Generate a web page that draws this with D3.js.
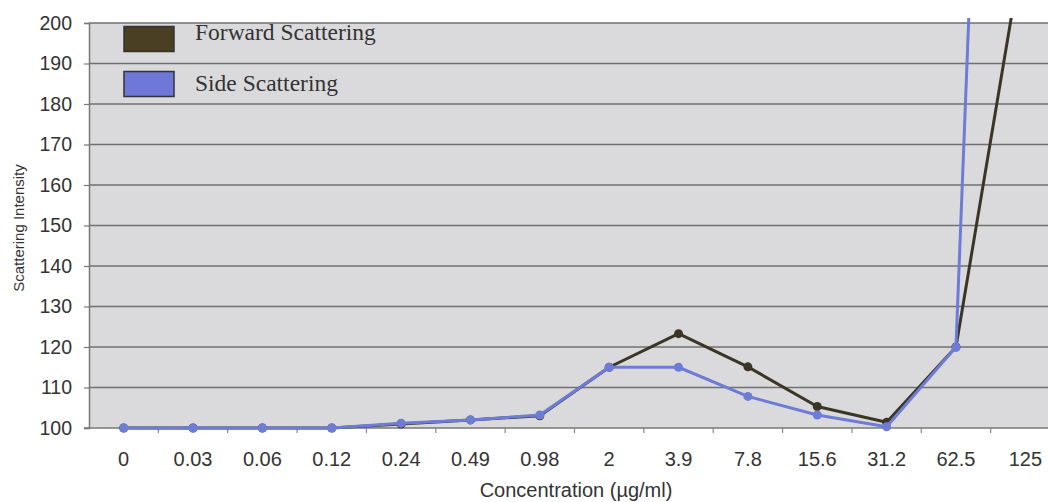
<!DOCTYPE html>
<html><head><meta charset="utf-8">
<script src="https://cdn.jsdelivr.net/npm/d3@7"></script>
<style>body{margin:0;background:#fff}svg{display:block}</style>
</head><body>
<script>
const categories = ["0","0.03","0.06","0.12","0.24","0.49","0.98","2","3.9","7.8","15.6","31.2","62.5","125"];
const forwardValues = [100,100,100,100,101,102,103,115,123.3,115.1,105.3,101.4,120,222];
const sideValues = [100,100,100,100,101.2,102,103.2,115,115,107.8,103.2,100.3,120,560];
const yTicks = [100,110,120,130,140,150,160,170,180,190,200];
const seriesNames = ["Forward Scattering","Side Scattering"];

(function () {
const W = 1048, H = 502;
const svg = d3.select("body").append("svg").attr("width", W).attr("height", H);
const pl = 89, pt = 23, pb = 428, pr = 1048;
const x = d3.scaleBand().domain(categories).range([pl, 1060]).padding(0);
const y = d3.scaleLinear().domain([100, 200]).range([pb, pt]);

svg.append("rect").attr("x", pl).attr("y", pt).attr("width", pr - pl).attr("height", pb - pt).attr("fill", "#dadadc");

// gridlines
svg.append("g").selectAll("line").data(yTicks.filter(d => d > 100)).join("line")
  .attr("x1", pl).attr("x2", pr).attr("y1", d => y(d)).attr("y2", d => y(d))
  .attr("stroke", "#707070").attr("stroke-width", 1.5);

// y axis
const yAxis = svg.append("g").attr("transform", `translate(${pl},0)`)
  .call(d3.axisLeft(y).tickValues(yTicks).tickSize(5).tickPadding(12));
yAxis.select(".domain").attr("stroke", "#777").attr("stroke-width", 1.5);
yAxis.selectAll(".tick line").attr("stroke", "#777").attr("stroke-width", 1.2);
yAxis.selectAll("text").attr("font-family", "Liberation Sans, Arial, sans-serif").attr("font-size", 19.5).attr("fill", "#333");

// x axis
const xAxis = svg.append("g").attr("transform", `translate(0,${pb})`)
  .call(d3.axisBottom(x).tickSize(0).tickPadding(24));
xAxis.select(".domain").remove();
xAxis.selectAll("text").attr("font-family", "Liberation Sans, Arial, sans-serif").attr("font-size", 20).attr("fill", "#333");
svg.append("line").attr("x1", pl - 5).attr("x2", pr).attr("y1", pb).attr("y2", pb).attr("stroke", "#777").attr("stroke-width", 1.5);
svg.append("g").selectAll("line").data(categories.slice(1)).join("line")
  .attr("x1", d => x(d)).attr("x2", d => x(d)).attr("y1", pb).attr("y2", pb + 5)
  .attr("stroke", "#888").attr("stroke-width", 1.2);

// clip
svg.append("clipPath").attr("id", "clip").append("rect").attr("x", pl).attr("y", 18).attr("width", pr - pl).attr("height", pb - 18 + 6);

const line = d3.line().x((d, i) => x(categories[i]) + x.bandwidth() / 2).y(d => y(d));
const series = [
  {name: seriesNames[0], values: forwardValues, color: "#3b3526"},
  {name: seriesNames[1], values: sideValues, color: "#6d7cd6"}
];
const g = svg.append("g").attr("clip-path", "url(#clip)");
series.forEach(s => {
  g.append("path").datum(s.values).attr("d", line).attr("fill", "none")
    .attr("stroke", s.color).attr("stroke-width", 3).attr("stroke-linejoin", "round");
  g.selectAll(null).data(s.values.slice(0, categories.length - 1)).join("circle")
    .attr("cx", (d, i) => x(categories[i]) + x.bandwidth() / 2).attr("cy", d => y(d))
    .attr("r", 4.5).attr("fill", s.color);
});

// legend
const legend = svg.append("g");
const legColors = ["#4a3f22", "#6e78d8"];
seriesNames.forEach((n, i) => {
  legend.append("rect").attr("x", 124).attr("y", 26.5 + i * 45).attr("width", 50).attr("height", 25)
    .attr("fill", legColors[i]).attr("stroke", "#333").attr("stroke-width", 1.5);
  legend.append("text").attr("x", 195).attr("y", 40 + i * 51).text(n)
    .attr("font-family", "Liberation Serif, Times New Roman, serif").attr("font-size", 23.5).attr("fill", "#333");
});

// axis titles
svg.append("text").attr("transform", "translate(24,228) rotate(-90)").attr("text-anchor", "middle")
  .attr("font-family", "Liberation Sans, Arial, sans-serif").attr("font-size", 15).attr("fill", "#333").text("Scattering Intensity");
svg.append("text").attr("x", 576).attr("y", 497).attr("text-anchor", "middle")
  .attr("font-family", "Liberation Sans, Arial, sans-serif").attr("font-size", 20).attr("fill", "#333").text("Concentration (µg/ml)");
})();
</script>
</body></html>
